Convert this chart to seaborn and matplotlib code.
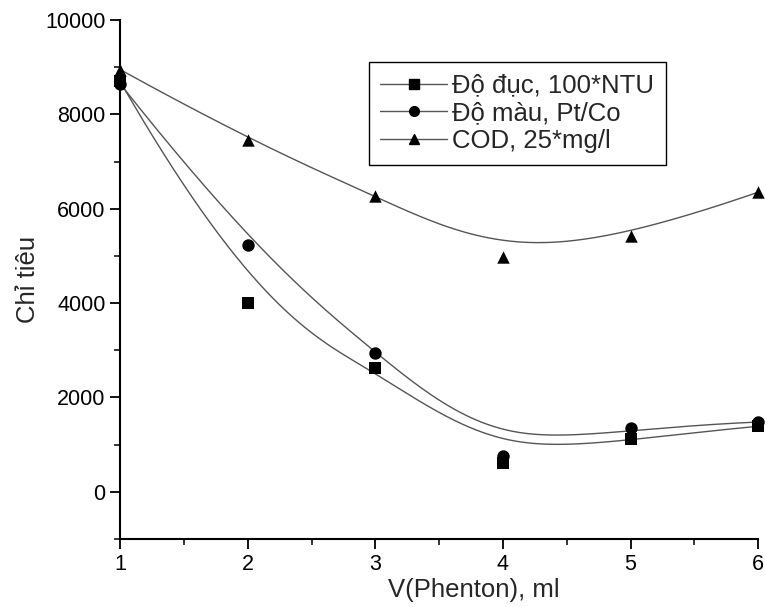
import numpy as np
import pandas as pd
import matplotlib
matplotlib.use("Agg")
import matplotlib.pyplot as plt
import seaborn as sns
from matplotlib.lines import Line2D
from matplotlib.ticker import MultipleLocator

v_phenton = [1, 2, 3, 4, 5, 6]
do_duc = [8700, 4000, 2630, 620, 1130, 1390]
do_mau = [8650, 5230, 2940, 770, 1360, 1480]
cod = [8950, 7460, 6280, 4980, 5420, 6350]

labels = ["Độ đục, 100*NTU", "Độ màu, Pt/Co", "COD, 25*mg/l"]
markers = ["s", "o", "^"]


def bspline(xs, ys, n=300):
    # clamped cubic B-spline, data points used as control points (Origin style)
    pts = np.column_stack([xs, ys]).astype(float)
    k = 3
    m = len(pts)
    knots = np.concatenate([np.zeros(k), np.linspace(0, 1, m - k + 1), np.ones(k)])
    t = np.linspace(0, 1 - 1e-9, n)

    def basis(i, d, t):
        if d == 0:
            return ((knots[i] <= t) & (t < knots[i + 1])).astype(float)
        a = 0.0
        b = 0.0
        if knots[i + d] != knots[i]:
            a = (t - knots[i]) / (knots[i + d] - knots[i]) * basis(i, d - 1, t)
        if knots[i + d + 1] != knots[i + 1]:
            b = (knots[i + d + 1] - t) / (knots[i + d + 1] - knots[i + 1]) * basis(i + 1, d - 1, t)
        return a + b

    B = np.array([basis(i, k, t) for i in range(m)])
    curve = B.T @ pts
    return curve[:, 0], curve[:, 1]


sns.set_style("ticks")
plt.rcParams["font.family"] = ["Liberation Sans", "DejaVu Sans"]

fig = plt.figure(figsize=(7.65, 6.07), dpi=100)
ax = fig.add_axes([0.157, 0.112, 0.834, 0.855])

handles = []
for ys, lab, mk in zip([do_duc, do_mau, cod], labels, markers):
    cx, cy = bspline(v_phenton, ys)
    curve = pd.DataFrame({"x": cx, "y": cy})
    sns.lineplot(data=curve, x="x", y="y", ax=ax, color="#555555", linewidth=1.0,
                 sort=False, estimator=None)
    pts = pd.DataFrame({"x": v_phenton, "y": ys})
    sns.scatterplot(data=pts, x="x", y="y", ax=ax, marker=mk, color="black",
                    s=80, edgecolor="black", linewidth=0, clip_on=False, zorder=5)
    handles.append(Line2D([0], [0], color="#555555", linewidth=1.0, marker=mk,
                          markersize=7, markerfacecolor="black", markeredgecolor="black",
                          label=lab))

ax.set_xlim(1, 6)
ax.set_ylim(-1000, 10000)
ax.xaxis.set_major_locator(MultipleLocator(1))
ax.xaxis.set_minor_locator(MultipleLocator(0.5))
ax.yaxis.set_major_locator(MultipleLocator(2000))
ax.yaxis.set_minor_locator(MultipleLocator(1000))
ax.set_yticks([0, 2000, 4000, 6000, 8000, 10000])

sns.despine(ax=ax)
for s in ["left", "bottom"]:
    ax.spines[s].set_linewidth(1.5)
    ax.spines[s].set_color("black")

ax.tick_params(which="major", length=7, width=1.3, labelsize=15.5, colors="black", direction="out")
ax.tick_params(which="minor", length=4, width=1.3, direction="out")

ax.set_xlabel("V(Phenton), ml", fontsize=18.5)
ax.xaxis.set_label_coords(0.555, -0.075)
ax.set_ylabel("Chỉ tiêu", fontsize=18.5, labelpad=4)

leg = ax.legend(handles=handles, loc="upper left", bbox_to_anchor=(0.39, 0.919),
                fontsize=18.5, frameon=True, fancybox=False, framealpha=1,
                edgecolor="black", handlelength=2.6, handletextpad=0.2,
                borderpad=0.45, labelspacing=0.15, borderaxespad=0)
leg.get_frame().set_linewidth(1.0)

fig.savefig("out.png", dpi=100)
